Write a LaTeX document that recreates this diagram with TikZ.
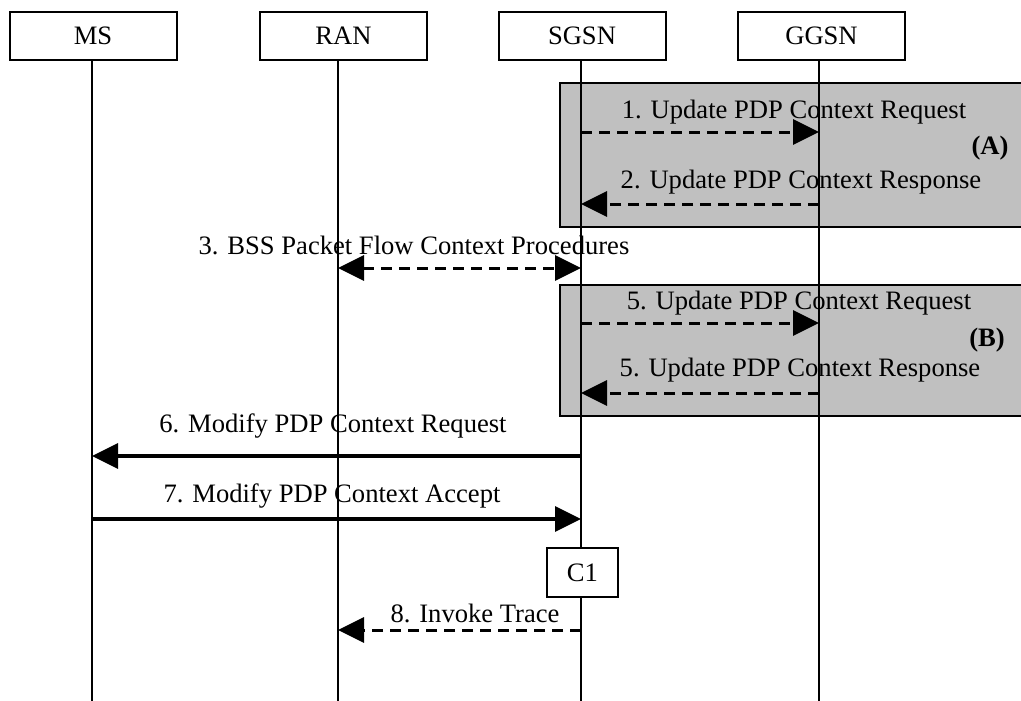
\documentclass[tikz,border=0pt]{standalone}
\usepackage{fontspec}
\setmainfont{Liberation Serif}
\usetikzlibrary{arrows.meta}
\definecolor{shade}{HTML}{C0C0C0}
\tikzset{
  entity/.style={draw=black, line width=2pt, fill=white, minimum width=167pt, minimum height=48pt, inner sep=0pt, font=\fontsize{26.6}{30}\selectfont},
  cbox/.style={draw=black, line width=2pt, fill=white, minimum width=71pt, minimum height=49pt, inner sep=0pt, font=\fontsize{26.6}{30}\selectfont},
  lifeline/.style={line width=2pt},
  lbl/.style={inner sep=0pt, font=\fontsize{26.6}{30}\selectfont},
  blbl/.style={inner sep=0pt, font=\fontsize{26.6}{30}\selectfont\bfseries},
  dmsg/.style={line width=3pt, dash pattern=on 11pt off 7pt, -{Triangle[length=26pt,width=25pt]}},
  ddmsg/.style={line width=3pt, dash pattern=on 11pt off 7pt, {Triangle[length=26pt,width=25pt]}-{Triangle[length=26pt,width=25pt]}},
  smsg/.style={line width=3.5pt, -{Triangle[length=26pt,width=25pt]}},
  panel/.style={fill=shade},
  paneledge/.style={line width=2pt}
}
\begin{document}
\begin{tikzpicture}[x=1pt,y=-1pt]
\useasboundingbox (0,0) rectangle (1021,701);
\clip (0,0) rectangle (1021,701);
% shaded panels
\fill[panel] (560,83) rectangle (1040,227);
\draw[paneledge] (1040,83) -- (560,83) -- (560,227) -- (1040,227);
\fill[panel] (560,285) rectangle (1040,416);
\draw[paneledge] (1040,285) -- (560,285) -- (560,416) -- (1040,416);
% entities
\node[entity] (MS) at (93,36) {MS};
\node[entity] (RAN) at (343.5,36) {RAN};
\node[entity] (SGSN) at (582,36) {SGSN};
\node[entity] (GGSN) at (821.5,36) {GGSN};
% lifeline ends
\coordinate (msT) at (92,60);   \coordinate (msB) at (92,705);
\coordinate (ranT) at (338,60); \coordinate (ranB) at (338,705);
\coordinate (sgT) at (581,60);  \coordinate (sgB) at (581,705);
\coordinate (ggT) at (819,60);  \coordinate (ggB) at (819,705);
\draw[lifeline] (msT) -- (msB);
\draw[lifeline] (ranT) -- (ranB);
\draw[lifeline] (sgT) -- (sgB);
\draw[lifeline] (ggT) -- (ggB);
% message anchor points
\coordinate (s1) at (581,132); \coordinate (g1) at (819,132);
\coordinate (s2) at (581,204); \coordinate (g2) at (819,204);
\coordinate (r3) at (338,268); \coordinate (s3) at (581,268);
\coordinate (s5a) at (581,323); \coordinate (g5a) at (819,323);
\coordinate (s5b) at (581,393); \coordinate (g5b) at (819,393);
\coordinate (m6) at (92,456); \coordinate (s6) at (581,456);
\coordinate (m7) at (92,519); \coordinate (s7) at (581,519);
\coordinate (r8) at (338,630); \coordinate (s8) at (581,630);
% messages
\draw[dmsg] (s1) -- (g1);
\draw[dmsg] (g2) -- (s2);
\draw[ddmsg] (r3) -- (s3);
\draw[dmsg] (s5a) -- (g5a);
\draw[dmsg] (g5b) -- (s5b);
\draw[smsg] (s6) -- (m6);
\draw[smsg] (m7) -- (s7);
\draw[dmsg] (s8) -- (r8);
% C1 box
\node[cbox] (C1) at (582.5,572.5) {C1};
% labels
\node[lbl] (t1) at (794,112) {1. Update PDP Context Request};
\node[lbl] (t2) at (801,182) {2. Update PDP Context Response};
\node[blbl] (tA) at (990,148) {(A)};
\node[lbl] (t3) at (414,245) {3. BSS Packet Flow Context Procedures};
\node[lbl] (t5a) at (799,303) {5. Update PDP Context Request};
\node[lbl] (t5b) at (800,370) {5. Update PDP Context Response};
\node[blbl] (tB) at (987,340) {(B)};
\node[lbl] (t6) at (333,426) {6. Modify PDP Context Request};
\node[lbl] (t7) at (332,496) {7. Modify PDP Context Accept};
\node[lbl] (t8) at (475,613) {8. Invoke Trace};
\end{tikzpicture}
\end{document}
